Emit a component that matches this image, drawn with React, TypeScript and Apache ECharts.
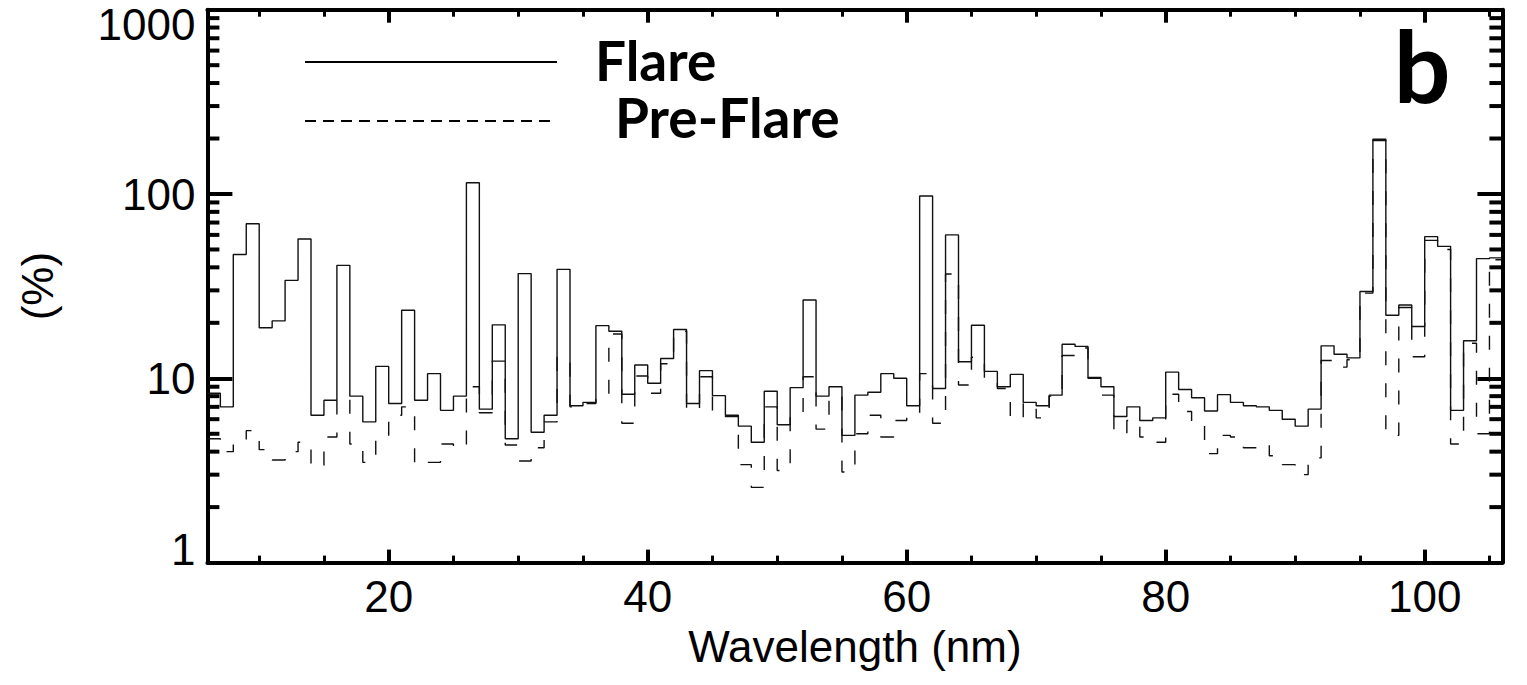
import React, { useEffect, useRef } from "react";
import * as echarts from "echarts";

// Bin edges (nm) of the 1-nm wavelength bins
const BIN_EDGES_NM = [
  6, 7, 8, 9, 10, 11, 12, 13, 14, 15, 16, 17, 18, 19, 20, 21, 22, 23, 24, 25,
  26, 27, 28, 29, 30, 31, 32, 33, 34, 35, 36, 37, 38, 39, 40, 41, 42, 43, 44, 45,
  46, 47, 48, 49, 50, 51, 52, 53, 54, 55, 56, 57, 58, 59, 60, 61, 62, 63, 64, 65,
  66, 67, 68, 69, 70, 71, 72, 73, 74, 75, 76, 77, 78, 79, 80, 81, 82, 83, 84, 85,
  86, 87, 88, 89, 90, 91, 92, 93, 94, 95, 96, 97, 98, 99, 100, 101, 102, 103, 104, 105,
  106,
];

// Flare variability (%) per bin, 6-7 nm ... 105-106 nm
const FLARE_PCT = [
  8.3, 7.0, 47, 69, 18.8, 20.5, 34, 57, 6.3, 7.6,
  41, 8.0, 5.8, 11.6, 7.3, 23.4, 7.6, 10.6, 6.7, 8.0,
  115, 6.8, 19.5, 4.7, 37, 5.1, 6.3, 39, 7.1, 7.4,
  19.3, 18.0, 8.2, 11.8, 9.4, 12.8, 18.4, 7.3, 11.0, 8.05,
  6.3, 5.5, 4.5, 8.5, 5.6, 8.9, 26.6, 8.0, 9.0, 4.9,
  8.1, 8.4, 10.6, 10.0, 7.1, 97.5, 8.8, 60, 12.3, 19.4,
  10.9, 9.0, 10.5, 7.4, 7.1, 8.1, 15.3, 14.9, 10.1, 9.0,
  6.2, 7.0, 5.9, 6.1, 10.8, 8.7, 7.85, 6.65, 8.15, 7.4,
  7.1, 7.0, 6.7, 6.0, 5.5, 6.8, 15.0, 13.5, 12.9, 29.6,
  198, 22.0, 25.0, 19.1, 58.7, 52, 6.7, 16.0, 44.6, 45.0,
];

// Pre-flare variability (%) per bin
const PRE_FLARE_PCT = [
  4.7, 4.0, 4.6, 5.2, 4.1, 3.6, 4.0, 4.5, 3.3, 4.8,
  7.85, 4.4, 3.5, 4.9, 6.3, 7.0, 3.4, 3.5, 4.4, 4.2,
  9.0, 6.5, 12.4, 4.35, 3.56, 4.2, 5.8, 13.0, 7.0, 7.3,
  7.7, 17.4, 5.7, 10.3, 8.3, 12.0, 18.0, 6.7, 10.2, 6.5,
  6.2, 3.4, 2.56, 7.0, 3.16, 6.4, 10.2, 5.3, 8.0, 3.1,
  5.0, 6.3, 4.8, 5.9, 6.2, 10.6, 5.7, 36.8, 9.2, 13.0,
  9.5, 8.8, 6.0, 7.3, 6.1, 8.0, 13.3, 14.6, 10.0, 8.1,
  5.0, 5.9, 4.8, 4.5, 8.2, 6.6, 5.85, 3.9, 4.9, 4.8,
  4.2, 4.4, 3.8, 3.4, 3.0, 3.7, 12.5, 11.5, 12.6, 29,
  195, 4.9, 24.2, 13.1, 56, 50, 4.4, 15.5, 5.0, 44,
];

const X_TICK_LABELS = [20, 40, 60, 80, 100];
const Y_MINOR_TICKS = [
  2, 3, 4, 5, 6, 7, 8, 9,
  20, 30, 40, 50, 60, 70, 80, 90,
  200, 300, 400, 500, 600, 700, 800, 900,
];

const SERIES_NAMES = ["Flare", "Pre-Flare"];

function stepData(vals: number[]) {
  return BIN_EDGES_NM.map((x, i) => [x, vals[Math.min(i, vals.length - 1)]]);
}

const LABEL_FONT = "'Liberation Sans', Arial, Helvetica, sans-serif";
const LEGEND_FONT = "Lato, 'Open Sans', sans-serif";
const LABEL_SIZE = 44;

export default function App() {
  const ref = useRef<HTMLDivElement>(null);

  useEffect(() => {
    if (!ref.current) return;
    const chart = echarts.init(ref.current, null, { renderer: "svg" });

    const axisLine = { show: true, onZero: false, lineStyle: { color: "#000", width: 4 } };
    const xTick = { show: true, inside: true, length: 13, lineStyle: { color: "#000", width: 4 } };
    const xMinor = { show: true, splitNumber: 4, length: 7, lineStyle: { color: "#000", width: 3 } };
    const yTick = { show: true, inside: true, length: 25, lineStyle: { color: "#000", width: 4 } };
    const txt = { color: "#000", fontFamily: LABEL_FONT, fontSize: LABEL_SIZE };
    const legendTok = {
      fontFamily: LEGEND_FONT,
      fontWeight: "bold",
      fontSize: 55,
      lineHeight: 57,
      color: "#000",
    };

    const option: any = {
      animation: false,
      backgroundColor: "#fff",
      grid: {
        left: 207.4,
        right: 24.6,
        top: 9.7,
        bottom: 122.4,
        containLabel: false,
        outerBoundsMode: "none",
      },
      xAxis: [
        {
          type: "value",
          min: 6,
          max: 106,
          position: "bottom",
          axisLine,
          axisTick: xTick,
          minorTick: xMinor,
          splitLine: { show: false },
          minorSplitLine: { show: false },
          axisLabel: {
            show: true,
            margin: 12,
            ...txt,
            showMinLabel: false,
            showMaxLabel: false,
            formatter: (v: number) => (X_TICK_LABELS.includes(v) ? String(v) : ""),
          },
          name: "Wavelength (nm)",
          nameLocation: "middle",
          nameGap: 62,
          nameTextStyle: txt,
        },
        {
          type: "value",
          min: 6,
          max: 106,
          position: "top",
          axisLine,
          axisTick: xTick,
          minorTick: xMinor,
          splitLine: { show: false },
          minorSplitLine: { show: false },
          axisLabel: { show: false },
        },
      ],
      yAxis: [
        {
          type: "log",
          logBase: 10,
          min: 1,
          max: 1000,
          position: "left",
          axisLine,
          axisTick: yTick,
          splitLine: { show: false },
          axisLabel: {
            show: true,
            margin: 12,
            ...txt,
            formatter: (v: number) => {
              const s = String(Math.round(v));
              if (Math.round(v) === 1000) return `{top|${s}}`;
              if (Math.round(v) === 1) return `{bot|${s}}`;
              return s;
            },
            rich: {
              top: { ...txt, padding: [30, 0, 0, 0] },
              bot: { ...txt, padding: [0, 0, 26, 0] },
            },
          },
          name: "(%)",
          nameLocation: "middle",
          nameGap: 148,
          nameRotate: 90,
          nameTextStyle: txt,
        },
        {
          type: "log",
          logBase: 10,
          min: 1,
          max: 1000,
          position: "right",
          axisLine,
          axisTick: yTick,
          splitLine: { show: false },
          axisLabel: { show: false },
        },
      ],
      series: [
        {
          type: "line",
          name: SERIES_NAMES[0],
          step: "end",
          data: stepData(FLARE_PCT),
          symbol: "none",
          showSymbol: false,
          xAxisIndex: 0,
          yAxisIndex: 0,
          lineStyle: { color: "#111", width: 1.4 },
          z: 3,
        },
        {
          type: "line",
          name: SERIES_NAMES[1],
          step: "end",
          data: stepData(PRE_FLARE_PCT),
          symbol: "none",
          showSymbol: false,
          xAxisIndex: 0,
          yAxisIndex: 0,
          lineStyle: { color: "#111", width: 1.4, type: [14, 18] },
          z: 2,
        },
        {
          type: "custom",
          name: "minorTicks",
          coordinateSystem: "cartesian2d",
          xAxisIndex: 0,
          yAxisIndex: 0,
          silent: true,
          clip: false,
          data: Y_MINOR_TICKS.map((v) => [6, v]),
          renderItem: (params: any, api: any) => {
            const cs = params.coordSys;
            const y = api.coord([api.value(0), api.value(1)])[1];
            const st = { stroke: "#000", lineWidth: 4 };
            return {
              type: "group",
              children: [
                { type: "line", shape: { x1: cs.x, y1: y, x2: cs.x + 12, y2: y }, style: st },
                { type: "line", shape: { x1: cs.x + cs.width - 13, y1: y, x2: cs.x + cs.width, y2: y }, style: st },
              ],
            };
          },
          z: 4,
        },
      ],
      graphic: [
        { type: "line", shape: { x1: 305, y1: 62, x2: 557, y2: 62 }, style: { stroke: "#000", lineWidth: 2 } },
        { type: "line", shape: { x1: 305, y1: 121, x2: 557, y2: 121 }, style: { stroke: "#000", lineWidth: 2, lineDash: [11, 7] } },
        {
          type: "text",
          x: 595,
          y: 31.5,
          style: {
            text: `{a|${SERIES_NAMES[0]}}\n{b|${SERIES_NAMES[1]}}`,
            rich: {
              a: { ...legendTok },
              b: { ...legendTok, padding: [0, 0, 0, 20] },
            },
            textAlign: "left",
            textVerticalAlign: "top",
          },
        },
        {
          type: "text",
          x: 1422,
          y: 64,
          style: { text: "b", fill: "#000", font: `bold 100px ${LEGEND_FONT}`, textAlign: "center", textVerticalAlign: "middle" },
        },
      ],
    };

    chart.setOption(option);
    return () => chart.dispose();
  }, []);

  return (
    <div
      ref={ref}
      style={{ position: "fixed", left: 0, top: 0, width: 1527, height: 685, background: "#fff" }}
    />
  );
}
